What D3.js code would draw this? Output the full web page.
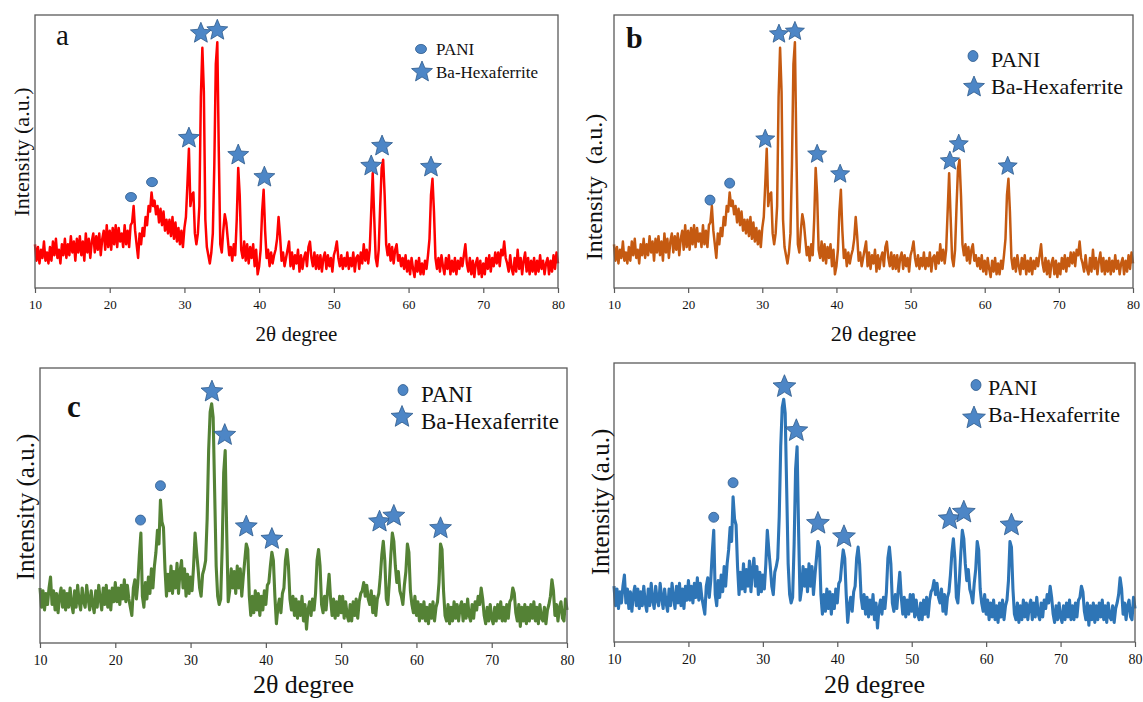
<!DOCTYPE html>
<html><head><meta charset="utf-8">
<script src="https://cdnjs.cloudflare.com/ajax/libs/d3/7.8.5/d3.min.js"></script>
<style>
body{margin:0;background:#fff}
svg{display:block}
text{font-family:"Liberation Serif","DejaVu Serif","Times New Roman",serif;fill:#111}
</style>
</head><body>
<svg id="chart" width="1143" height="702"></svg>
<script>
// ---------------- DATA ----------------
// 2θ sampling grid of the measurement: 10° to 80° in 0.2° steps
const xStart = 10, xStep = 0.2;
const xTicks = [10, 20, 30, 40, 50, 60, 70, 80];
const legendLabels = ["PANI", "Ba-Hexaferrite"];

const intensityAB = [
 16,10,15,9,14,11,17,10,13,9,
 15,10,17,12,18,11,14,9,16,12,
 18,11,16,12,19,13,17,10,18,13,
 19,12,17,10,20,13,18,11,17,20,
 13,19,14,20,12,18,21,14,23,15,
 21,14,22,16,23,15,22,17,20,15,
 23,16,21,15,23,24,30,21,16,11,
 20,16,22,19,26,23,30,28,35,30,
 32,27,30,24,29,23,28,21,25,20,
 25,19,26,18,24,17,22,16,21,15,
 22,26,38,51,30,34,35,20,16,20,
 30,70,88,72,25,15,12,9,13,20,
 45,82,90,50,16,13,21,27,24,18,
 12,15,10,16,12,25,44,34,14,11,
 17,10,16,9,15,11,16,8,14,5,
 8,14,28,36,21,11,14,8,13,9,
 12,14,18,26,19,10,13,8,11,14,
 17,8,13,7,12,9,14,6,12,7,
 11,13,8,15,17,11,8,13,7,12,
 7,12,6,11,13,7,12,8,11,6,
 12,14,17,11,8,12,7,11,8,13,
 7,11,8,13,6,11,12,7,13,9,
 16,10,14,9,14,28,42,26,11,8,
 14,30,44,47,34,16,12,16,10,15,
 9,14,16,10,12,8,11,7,12,6,
 10,5,11,7,4,10,6,11,5,9,
 5,10,7,12,18,34,40,28,11,7,
 11,6,12,8,5,11,7,12,5,10,
 6,11,5,10,7,11,8,12,16,9,
 6,11,5,10,4,9,11,5,10,4,
 9,5,11,7,12,6,11,8,13,9,
 13,8,14,12,17,11,9,6,12,7,
 5,11,6,14,7,11,5,10,13,6,
 11,5,10,6,11,5,10,6,12,7,
 10,5,9,11,5,10,6,12,7,13,
 9
];

const intensityCD = [
 20,13,19,12,18,14,20,24,14,19,
 12,18,11,17,20,13,19,12,18,13,
 20,14,11,19,13,21,15,12,20,15,
 13,21,16,12,19,14,11,19,13,21,
 16,12,20,14,21,13,19,12,20,15,
 22,15,20,14,21,16,23,15,21,16,
 13,10,20,23,16,22,32,40,17,13,
 22,16,24,18,27,20,28,33,41,36,
 52,44,42,27,17,25,19,28,18,26,
 20,29,18,26,30,20,27,17,25,18,
 24,19,28,40,33,27,20,17,25,27,
 30,45,70,84,87,82,55,28,17,14,
 16,35,62,70,40,15,19,27,20,26,
 18,28,20,27,17,24,30,36,34,17,
 10,17,11,19,12,18,10,17,12,19,
 14,21,22,28,33,30,17,7,13,16,
 11,18,20,30,34,28,16,12,17,10,
 16,9,15,10,17,8,14,5,12,15,
 10,16,12,18,30,34,28,14,11,17,
 12,19,25,16,10,16,9,15,10,17,
 11,17,9,15,10,8,14,8,15,10,
 16,9,15,18,19,22,17,21,16,14,
 19,11,17,10,16,18,24,32,37,30,
 16,14,22,32,40,37,28,22,26,19,
 17,14,21,26,36,33,19,14,11,17,
 10,15,8,14,9,15,8,13,7,14,
 9,15,8,13,15,22,36,34,19,10,
 8,14,7,13,8,15,9,14,8,13,
 15,8,14,9,16,10,8,14,9,15,
 12,17,14,20,16,10,7,13,8,14,
 9,7,13,8,14,9,15,8,13,8,
 14,9,15,16,20,18,11,8,14,6,
 13,8,14,7,13,8,14,9,15,8,
 13,7,14,9,8,13,7,12,14,17,
 23,19,10,14,8,13,15,9,8,16,
 12
];

// Peak markers (2θ, intensity)
const paniA2t = [22.85, 25.66], paniAI = [33.3, 38.8];
const hexaA2t = [30.6, 32.2, 34.4, 37.2, 40.7, 55.0, 56.45, 63.0];
const hexaAI  = [54.9, 93.3, 94.4, 48.7, 40.6, 44.7, 52.0, 44.3];
const paniB2t = [22.95, 25.6], paniBI = [32.2, 38.4];
const hexaB2t = [30.4, 32.25, 34.4, 37.4, 40.5, 55.3, 56.5, 63.1];
const hexaBI  = [54.5, 93.0, 94.0, 49.0, 41.7, 46.5, 52.7, 44.6];
const paniC2t = [23.35, 26.0], paniCI = [44.7, 57.2];
const hexaC2t = [32.84, 34.54, 37.4, 40.8, 55.1, 57.0, 63.2];
const hexaCI  = [91.4, 75.6, 42.3, 37.8, 44.1, 46.2, 41.7];
const paniD2t = [23.4, 26.0], paniDI = [44.7, 57.1];
const hexaD2t = [32.9, 34.5, 37.4, 40.9, 55.1, 57.0, 63.4];
const hexaDI  = [91.5, 75.7, 42.5, 37.7, 44.1, 46.5, 41.9];

// ---------------- LAYOUT ----------------
const panels = [
 {L:35, R:558, T:15, B:288, data:intensityAB, color:"#ff0000", lw:2.5,
  pani:[paniA2t,paniAI], hexa:[hexaA2t,hexaAI], starR:11, circ:[5.5,4.6],
  label:"a", bold:false, labelSize:29, labelPos:[56,45],
  tickSize:13, xTitleSize:21, xTitleY:341, yTitle:"Intensity (a.u.)", yTitleSize:22, yTitleX:29, yTitleY:152,
  leg:{cx:421, cy:49, sx:422, sy:72, tx:436, ty1:55, ty2:78, fs:17, sR:11, cr:[5.5,4.6]}},
 {L:614, R:1133, T:15, B:288, data:intensityAB, color:"#c55a11", lw:2.5,
  pani:[paniB2t,paniBI], hexa:[hexaB2t,hexaBI], starR:10, circ:[5,5],
  label:"b", bold:true, labelSize:30, labelPos:[626,48],
  tickSize:13, xTitleSize:22, xTitleY:341, yTitle:"Intensity\u00a0 (a.u.)", yTitleSize:24, yTitleX:602, yTitleY:187,
  leg:{cx:973, cy:56, sx:974, sy:87, tx:991, ty1:67, ty2:94, fs:22, sR:11, cr:[5,5.5]}},
 {L:40, R:567, T:368, B:643, data:intensityCD, color:"#548235", lw:3.1,
  pani:[paniC2t,paniCI], hexa:[hexaC2t,hexaCI], starR:11.5, circ:[5,5],
  label:"c", bold:true, labelSize:31, labelPos:[67,417],
  tickSize:14, xTitleSize:26, xTitleY:693, yTitle:"Intensity (a.u.)", yTitleSize:25, yTitleX:34, yTitleY:507,
  leg:{cx:403, cy:390, sx:402, sy:417, tx:421, ty1:402, ty2:429, fs:23, sR:11.5, cr:[5,5.5]}},
 {L:614, R:1135, T:363, B:642, data:intensityCD, color:"#2e75b6", lw:3.1,
  pani:[paniD2t,paniDI], hexa:[hexaD2t,hexaDI], starR:12, circ:[5,5],
  label:null,
  tickSize:14, xTitleSize:26, xTitleY:693, yTitle:"Intensity (a.u.)", yTitleSize:25, yTitleX:609, yTitleY:502,
  leg:{cx:976, cy:385, sx:974, sy:418, tx:988, ty1:395, ty2:422, fs:22, sR:12, cr:[5,5.5]}}
];

const svg = d3.select("#chart");
const markFill = "#4d86c6", markStroke = "#2d5a8c", frameColor = "#5a5a5a";
const serif = '"Liberation Serif","DejaVu Serif",serif';

function starPath(R){
  const pts = d3.range(10).map(i => [i*Math.PI/5, i%2 ? R*0.45 : R]);
  return d3.lineRadial().curve(d3.curveLinearClosed)(pts);
}

panels.forEach(p => {
  const g = svg.append("g");
  const x = d3.scaleLinear().domain([10,80]).range([p.L,p.R]);
  const y = d3.scaleLinear().domain([0,100]).range([p.B,p.T]);
  const pts = p.data.map((v,i) => [xStart + i*xStep, v]);

  g.append("path").datum(pts)
    .attr("fill","none").attr("stroke",p.color).attr("stroke-width",p.lw)
    .attr("stroke-linejoin","round")
    .attr("d", d3.line().x(d=>x(d[0])).y(d=>y(d[1])));

  g.append("rect").attr("x",p.L).attr("y",p.T).attr("width",p.R-p.L).attr("height",p.B-p.T)
    .attr("fill","none").attr("stroke",frameColor).attr("stroke-width",1.3);

  const ax = g.append("g").attr("transform",`translate(0,${p.B})`)
    .call(d3.axisBottom(x).tickValues(xTicks).tickSize(5).tickPadding(7).tickFormat(d3.format("d")));
  ax.attr("font-family", serif);
  ax.select(".domain").remove();
  ax.selectAll(".tick line").attr("stroke",frameColor).attr("stroke-width",1.2);
  ax.selectAll(".tick text").attr("font-family",serif)
    .style("font-size",p.tickSize+"px").attr("fill","#222");

  g.append("text").attr("x",(p.L+p.R)/2).attr("y",p.xTitleY).attr("text-anchor","middle")
    .attr("font-family",serif).style("font-size",p.xTitleSize+"px").text("2θ degree");
  g.append("text").attr("transform",`translate(${p.yTitleX},${p.yTitleY}) rotate(-90)`)
    .attr("text-anchor","middle").attr("font-family",serif).style("font-size",p.yTitleSize+"px").text(p.yTitle);

  if (p.label){
    g.append("text").attr("x",p.labelPos[0]).attr("y",p.labelPos[1]).attr("font-family",serif)
      .style("font-size",p.labelSize+"px").style("font-weight",p.bold?"bold":"normal").text(p.label);
  }

  g.selectAll(".pani").data(p.pani[0].map((t,i)=>[t,p.pani[1][i]])).enter()
    .append("ellipse").attr("cx",d=>x(d[0])).attr("cy",d=>y(d[1]))
    .attr("rx",p.circ[0]).attr("ry",p.circ[1])
    .attr("fill",markFill).attr("stroke",markStroke).attr("stroke-width",0.8);
  g.selectAll(".hexa").data(p.hexa[0].map((t,i)=>[t,p.hexa[1][i]])).enter()
    .append("path").attr("d",starPath(p.starR))
    .attr("transform",d=>`translate(${x(d[0])},${y(d[1])})`)
    .attr("fill",markFill).attr("stroke",markStroke).attr("stroke-width",0.8);

  const L = p.leg;
  g.append("ellipse").attr("cx",L.cx).attr("cy",L.cy).attr("rx",L.cr[0]).attr("ry",L.cr[1])
    .attr("fill",markFill).attr("stroke",markStroke).attr("stroke-width",0.8);
  g.append("path").attr("d",starPath(L.sR)).attr("transform",`translate(${L.sx},${L.sy})`)
    .attr("fill",markFill).attr("stroke",markStroke).attr("stroke-width",0.8);
  g.append("text").attr("x",L.tx).attr("y",L.ty1).attr("font-family",serif).style("font-size",L.fs+"px").text(legendLabels[0]);
  g.append("text").attr("x",L.tx).attr("y",L.ty2).attr("font-family",serif).style("font-size",L.fs+"px").text(legendLabels[1]);
});
</script>
</body></html>
